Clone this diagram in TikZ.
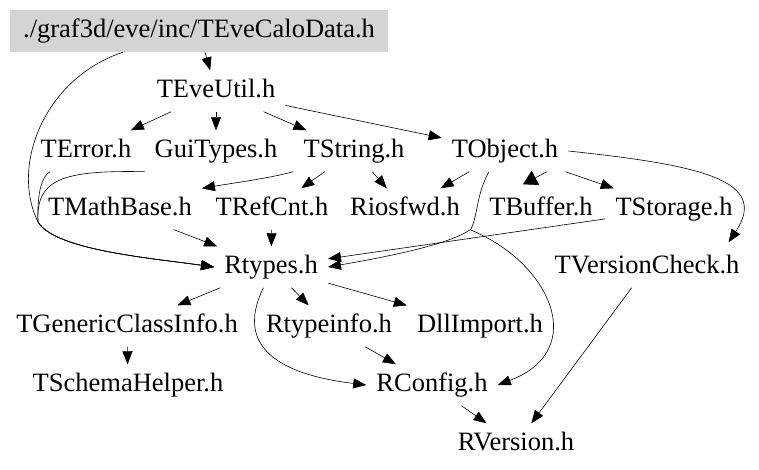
\documentclass[tikz,border=0pt]{standalone}
\usepackage{fontspec}
\setmainfont{Liberation Serif}
\usetikzlibrary{arrows.meta,calc}
\begin{document}
\begin{tikzpicture}[x=1pt,y=1pt]

\tikzstyle{file} = [draw=none, inner xsep=10pt, inner ysep=8pt,
	text height=19pt, text depth=6pt, font=\fontsize{26.5}{30}\selectfont];
\tikzstyle{top} = [file, inner sep=0pt, fill=black!17, minimum width=378pt, minimum height=42pt];
\tikzstyle{dep} = [-{Triangle[length=13pt,width=10pt]}, line width=0.6pt];
\useasboundingbox (0,0) rectangle (759,-469);

\node[top] (calo) at (199,-31) {./graf3d/eve/inc/TEveCaloData.h};
\node[file] (util) at (216,-91) {TEveUtil.h};

\node[file] (err) at (86,-151) {TError.h};
\node[file] (gui) at (216,-151) {GuiTypes.h};
\node[file] (str) at (354,-151) {TString.h};
\node[file] (obj) at (505,-151) {TObject.h};

\node[file] (math) at (120,-209) {TMathBase.h};
\node[file] (ref) at (272,-209) {TRefCnt.h};
\node[file] (ios) at (405,-209) {Riosfwd.h};
\node[file] (buf) at (541,-209) {TBuffer.h};
\node[file] (stor) at (674,-209) {TStorage.h};

\node[file] (rtyp) at (271,-267) {Rtypes.h};
\node[file] (vchk) at (647,-267) {TVersionCheck.h};

\node[file] (gci) at (127,-326) {TGenericClassInfo.h};
\node[file] (rti) at (329,-326) {Rtypeinfo.h};
\node[file] (dll) at (480,-326) {DllImport.h};

\node[file] (schema) at (128,-385) {TSchemaHelper.h};
\node[file] (rconf) at (432,-385) {RConfig.h};
\node[file] (rver) at (516,-444) {RVersion.h};

\coordinate (bend) at (38,-222);
\coordinate (knot) at (471,-229);

% top part
\draw[dep] (calo) -- (util);
\draw[dep] (util) -- (err);
\draw[dep] (util) -- (gui);
\draw[dep] (util) -- (str);
\draw[dep] (util) -- (obj);

% the long ones on the left, all into Rtypes.h
\draw[dep] ($(calo.south)+(-76,0)$) .. controls (45,-78) and (10,-165) .. (bend)
	.. controls (55,-250) and (150,-258) .. (rtyp.west);
\draw[dep] (gui.south west) .. controls (60,-170) and (36,-180) .. (bend)
	.. controls (55,-250) and (150,-258) .. (rtyp.west);
\draw[dep] (err.210) .. controls (42,-176) and (37,-192) .. (bend)
	.. controls (55,-250) and (150,-258) .. (rtyp.west);

\draw[dep] (str.south west) .. controls (270,-178) and (240,-182) .. (math.north east);
\draw[dep] (str) -- (ref);
\draw[dep] (str) -- (ios);
\draw[dep] (obj) -- (ios);
\draw[-{Triangle[length=14pt,width=16pt]}, line width=0.6pt]
	($(obj.south)+(42,0)$) -- ($(buf.north)+(-18,4)$);
\draw[dep] (obj) -- (stor);
\draw[dep] (obj.east) .. controls (700,-165) and (770,-180) .. ($(vchk.north east)+(-21,4)$);
\draw[dep] ($(obj.south)+(-16,0)$) .. controls (476,-195) and (478,-215) .. (knot)
	.. controls (450,-245) and (380,-258) .. (rtyp.east);

\draw[dep] (math) -- (rtyp);
\draw[dep] (ref) -- (rtyp);
\draw[dep] (ios.south east) .. controls (550,-262) and (590,-350) .. (rconf.east);
\draw[dep] (stor) -- (rtyp);

% lower part
\draw[dep] (rtyp) -- (gci);
\draw[dep] (rtyp) -- (rti);
\draw[dep] (rtyp) -- (dll);
\draw[dep] (rtyp.250) .. controls (240,-335) and (260,-372) .. (rconf.west);
\draw[dep] (gci) -- (schema);
\draw[dep] (rti) -- (rconf);
\draw[dep] (rconf) -- (rver);
\draw[dep] (vchk) -- (rver);

\end{tikzpicture}
\end{document}
